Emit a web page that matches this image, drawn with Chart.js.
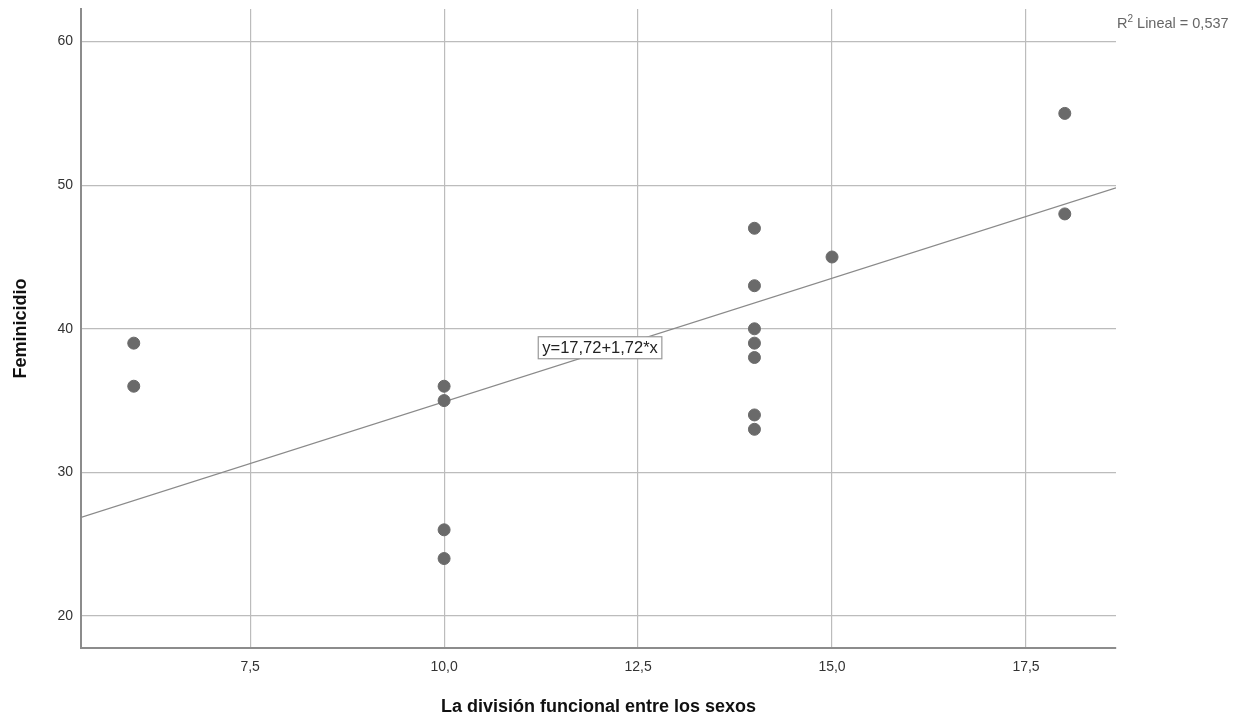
<!DOCTYPE html>
<html>
<head>
<meta charset="utf-8">
<script src="https://cdn.jsdelivr.net/npm/chart.js@4/dist/chart.umd.min.js"></script>
<style>
  html, body { margin: 0; padding: 0; background: #fff; }
  #wrap { width: 1259px; height: 728px; }
</style>
</head>
<body>
<div id="wrap"><canvas id="scatter" width="1259" height="728"></canvas></div>
<script>
// values
var divisionX = [6, 6, 10, 10, 10, 10, 14, 14, 14, 14, 14, 14, 14, 15, 18, 18];
var feminicidioY = [39, 36, 36, 35, 26, 24, 47, 43, 40, 39, 38, 34, 33, 45, 55, 48];
var xTicks = [7.5, 10, 12.5, 15, 17.5];
var yTicks = [20, 30, 40, 50, 60];
var intercept = 17.72;
var slope = 1.72;
var rSquared = '0,537';
var xMin = 5.32, xMax = 18.66;
var yMin = 17.77, yMax = 62.27;

var points = divisionX.map(function (x, i) { return { x: x, y: feminicidioY[i] }; });
var fitLine = [xMin, xMax].map(function (x) { return { x: x, y: intercept + slope * x }; });

function comma(v, dec) { return v.toFixed(dec).replace('.', ','); }

// equation box + R2 label
var extras = {
    id: 'extras',
    afterDatasetsDraw: function (chart) {
        var c = chart.ctx, xs = chart.scales.x, ys = chart.scales.y;
        c.save();
        var label = 'y=' + comma(intercept, 2) + '+' + comma(slope, 2) + '*x';
        c.font = '16.5px "Liberation Sans", Arial, sans-serif';
        var w = c.measureText(label).width + 8;
        var cx = xs.getPixelForValue(12.01), cy = ys.getPixelForValue(38.68);
        c.fillStyle = '#fff';
        c.fillRect(cx - w / 2, cy - 11, w, 22);
        c.strokeStyle = '#999';
        c.lineWidth = 1.2;
        c.strokeRect(cx - w / 2, cy - 11, w, 22);
        c.fillStyle = '#222';
        c.textAlign = 'center';
        c.textBaseline = 'middle';
        c.fillText(label, cx, cy + 1);

        // R2 lineal
        c.fillStyle = '#666';
        c.textAlign = 'left';
        c.textBaseline = 'alphabetic';
        var x0 = 1117, y0 = 28;
        c.font = '14.5px "Liberation Sans", Arial, sans-serif';
        c.fillText('R', x0, y0);
        var rw = c.measureText('R').width;
        c.font = '10px "Liberation Sans", Arial, sans-serif';
        c.fillText('2', x0 + rw, y0 - 6);
        var sw = c.measureText('2').width;
        c.font = '14.5px "Liberation Sans", Arial, sans-serif';
        c.fillText(' Lineal = ' + rSquared, x0 + rw + sw, y0);
        c.restore();
    }
};

new Chart(document.getElementById('scatter'), {
    type: 'scatter',
    data: {
        datasets: [{
            data: points,
            backgroundColor: '#6a6a6a',
            borderColor: '#6a6a6a',
            pointRadius: 6,
            pointHoverRadius: 6
        }, {
            type: 'line',
            data: fitLine,
            borderColor: '#8a8a8a',
            borderWidth: 1.2,
            pointRadius: 0,
            fill: false
        }]
    },
    options: {
        responsive: false,
        animation: false,
        events: [],
        layout: { padding: { top: 9, right: 143, left: 0, bottom: 0 } },
        plugins: { legend: { display: false }, tooltip: { enabled: false } },
        scales: {
            x: {
                type: 'linear',
                min: xMin,
                max: xMax,
                afterBuildTicks: function (s) { s.ticks = xTicks.map(function (v) { return { value: v }; }); },
                afterFit: function (s) { s.height = 80; s.paddingLeft = 0; s.paddingRight = 0; },
                ticks: {
                    color: '#333',
                    font: { family: '"Liberation Sans", Arial, sans-serif', size: 14 },
                    padding: 11,
                    callback: function (v) { return comma(v, 1); }
                },
                grid: { color: '#bcbcbc', lineWidth: 1.2, drawTicks: false },
                border: { color: '#8c8c8c', width: 2 },
                title: {
                    display: true,
                    text: 'La división funcional entre los sexos',
                    color: '#111',
                    font: { family: '"Liberation Sans", Arial, sans-serif', size: 18, weight: 'bold' },
                    padding: { top: 16, bottom: 10 }
                }
            },
            y: {
                type: 'linear',
                min: yMin,
                max: yMax,
                afterBuildTicks: function (s) { s.ticks = yTicks.map(function (v) { return { value: v }; }); },
                afterFit: function (s) { s.width = 81; s.paddingTop = 0; s.paddingBottom = 0; },
                ticks: {
                    color: '#333',
                    font: { family: '"Liberation Sans", Arial, sans-serif', size: 14 },
                    padding: 8,
                    callback: function (v) { return String(v); }
                },
                grid: { color: '#bcbcbc', lineWidth: 1.2, drawTicks: false },
                border: { color: '#8c8c8c', width: 2 },
                title: {
                    display: true,
                    text: 'Feminicidio',
                    color: '#111',
                    font: { family: '"Liberation Sans", Arial, sans-serif', size: 18, weight: 'bold' },
                    padding: { top: 10, bottom: 0 }
                }
            }
        }
    },
    plugins: [extras]
});
</script>
</body>
</html>
